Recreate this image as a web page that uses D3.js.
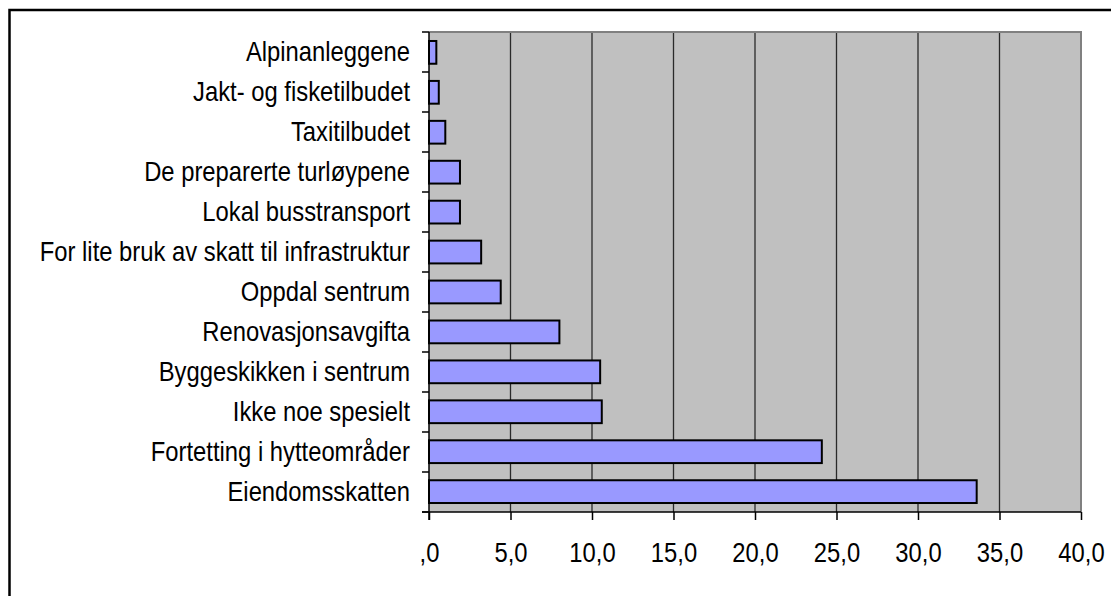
<!DOCTYPE html>
<html>
<head>
<meta charset="utf-8">
<script src="https://cdn.jsdelivr.net/npm/d3@7"></script>
<style>
  body { margin: 0; background: #fff; }
  svg text { font-family: "Liberation Sans Narrow", "Arial Narrow", "Liberation Sans", Arial, sans-serif; font-size: 28.5px; fill: #000; }
</style>
</head>
<body>
<svg id="chart" width="1111" height="596"></svg>
<script>
'use strict';

// categories top to bottom, as drawn
const categories = [
    'Alpinanleggene',
    'Jakt- og fisketilbudet',
    'Taxitilbudet',
    'De preparerte turløypene',
    'Lokal busstransport',
    'For lite bruk av skatt til infrastruktur',
    'Oppdal sentrum',
    'Renovasjonsavgifta',
    'Byggeskikken i sentrum',
    'Ikke noe spesielt',
    'Fortetting i hytteområder',
    'Eiendomsskatten'
];
const values = [0.45, 0.6, 1.0, 1.9, 1.9, 3.2, 4.4, 8.0, 10.5, 10.6, 24.1, 33.6];
const x_ticks = [0, 5, 10, 15, 20, 25, 30, 35, 40];
const x_domain = [0, 40];

const plot = {left: 429, top: 32, right: 1081, bottom: 512};
const squeeze = 0.835; // the source font is a narrow face

const svg = d3.select('#chart');

// outer chart frame (runs off the right and bottom edges)
svg.append('rect')
    .attr('x', 9.5).attr('y', 10)
    .attr('width', 1200).attr('height', 700)
    .attr('fill', '#fff')
    .attr('stroke', '#000')
    .attr('stroke-width', 2.5);

const xScale = d3.scaleLinear().domain(x_domain).range([plot.left, plot.right]);
const yScale = d3.scaleBand().domain(categories).range([plot.top, plot.bottom]).paddingInner(0.43).paddingOuter(0.225);

// plot background
svg.append('rect')
    .attr('x', plot.left).attr('y', plot.top)
    .attr('width', plot.right - plot.left).attr('height', plot.bottom - plot.top)
    .attr('fill', '#c0c0c0');

// vertical gridlines
svg.append('g')
    .selectAll('line')
    .data(x_ticks.slice(1, -1))
    .join('line')
    .attr('x1', d => xScale(d)).attr('x2', d => xScale(d))
    .attr('y1', plot.top).attr('y2', plot.bottom)
    .attr('stroke', '#2a2a2a')
    .attr('stroke-width', 1.3);

// plot border top / right
svg.append('path')
    .attr('d', `M${plot.left},${plot.top}H${plot.right}V${plot.bottom}`)
    .attr('fill', 'none')
    .attr('stroke', '#808080')
    .attr('stroke-width', 2);

// bars
svg.append('g')
    .selectAll('rect')
    .data(values)
    .join('rect')
    .attr('x', xScale(0))
    .attr('y', (d, i) => yScale(categories[i]))
    .attr('width', d => xScale(d) - xScale(0))
    .attr('height', yScale.bandwidth())
    .attr('fill', '#9999ff')
    .attr('stroke', '#000')
    .attr('stroke-width', 2);

// y axis: ticks at band boundaries
const yAxis = svg.append('g').attr('transform', `translate(${plot.left},0)`);
const boundaries = d3.range(categories.length + 1).map(i => plot.top + i * (plot.bottom - plot.top) / categories.length);
yAxis.selectAll('line.tick')
    .data(boundaries)
    .join('line')
    .attr('class', 'tick')
    .attr('x1', -7).attr('x2', 0)
    .attr('y1', d => d).attr('y2', d => d)
    .attr('stroke', '#000').attr('stroke-width', 1.5);
yAxis.append('line')
    .attr('y1', plot.top).attr('y2', plot.bottom + 8)
    .attr('stroke', '#000').attr('stroke-width', 1.5);
yAxis.selectAll('text')
    .data(categories)
    .join('text')
    .attr('transform', d => `translate(-19,${yScale(d) + yScale.bandwidth() / 2}) scale(${squeeze},1)`)
    .attr('dy', '0.32em')
    .attr('text-anchor', 'end')
    .text(d => d);

// x axis
const fmt = d => d === 0 ? ',0' : d3.format('.1f')(d).replace('.', ',');
const xAxis = d3.axisBottom(xScale)
    .tickValues(x_ticks)
    .tickFormat(fmt)
    .tickSizeInner(8)
    .tickSizeOuter(0)
    .tickPadding(22);
svg.append('g')
    .attr('transform', `translate(0,${plot.bottom})`)
    .call(xAxis)
    .call(g => g.select('.domain').attr('stroke', '#000').attr('stroke-width', 1.5).attr('d', `M${plot.left - 7},0H${plot.right}`))
    .call(g => g.selectAll('.tick line').attr('stroke', '#000').attr('stroke-width', 1.5))
    .call(g => g.selectAll('.tick text')
        .attr('fill', '#000')
        .attr('transform', `scale(${squeeze},1)`)
        .style('font-size', '28.5px').style('font-family', null));
</script>
</body>
</html>
